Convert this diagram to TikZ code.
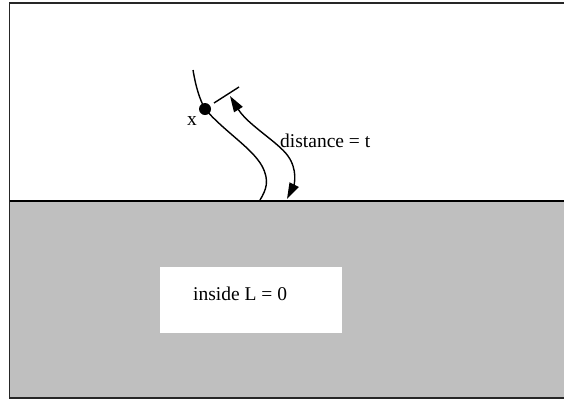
\documentclass[tikz,border=0pt]{standalone}
\usepackage{fontspec}
\setmainfont{Liberation Serif}
\usetikzlibrary{arrows.meta}
\begin{document}
\begin{tikzpicture}[x=1pt,y=-1pt,
  lbl/.style={inner sep=0pt,font=\fontsize{19.5}{22}\selectfont},
  curveline/.style={line width=1.4pt,black},
  tip/.tip={Triangle[length=16pt,width=10pt]},
  dbl/.style={line width=1.4pt,tip-tip}]
\useasboundingbox (0,0) rectangle (564,400);
% outside region frame
\fill[white] (9.5,3) rectangle (570,398);
% gray inside region
\fill[black!25] (9.5,201) rectangle (570,398);
\draw[line width=1.3pt,black!85] (570,3) -- (9.5,3) -- (9.5,398) -- (570,398);
\draw[line width=1.3pt] (9.5,201) -- (570,201);
% white label box
\node[fill=white,minimum width=182pt,minimum height=66pt,anchor=north west,inner sep=0pt] (box) at (160,267) {};
\node[lbl,anchor=base west] (inside) at (193,300) {inside L = 0};
% the curve through x
\coordinate (c0) at (193,70);
\node[circle,fill=black,inner sep=0pt,minimum size=12pt] (dot) at (205,109) {};
\coordinate (c1) at (260,200);
\draw[curveline] (c0) .. controls (196,88) and (200,100) .. (dot.center);
\draw[curveline] (dot.center) .. controls (225,132) and (252,148) .. (262,166) .. controls (270,181) and (266,190) .. (c1);
\node[lbl,anchor=base] (x) at (192,125) {x};
% tick at distance t
\coordinate (t0) at (214,103);
\coordinate (t1) at (239,87);
\draw[curveline] (t0) -- (t1);
% double arrow
\coordinate (a0) at (230,96);
\coordinate (a1) at (287,199);
\draw[dbl] (a0) .. controls (248,125) and (278,142) .. (288,156) .. controls (298,170) and (294,185) .. (a1);
\node[lbl,anchor=base west] (dist) at (280,147) {distance = t};
\end{tikzpicture}
\end{document}
